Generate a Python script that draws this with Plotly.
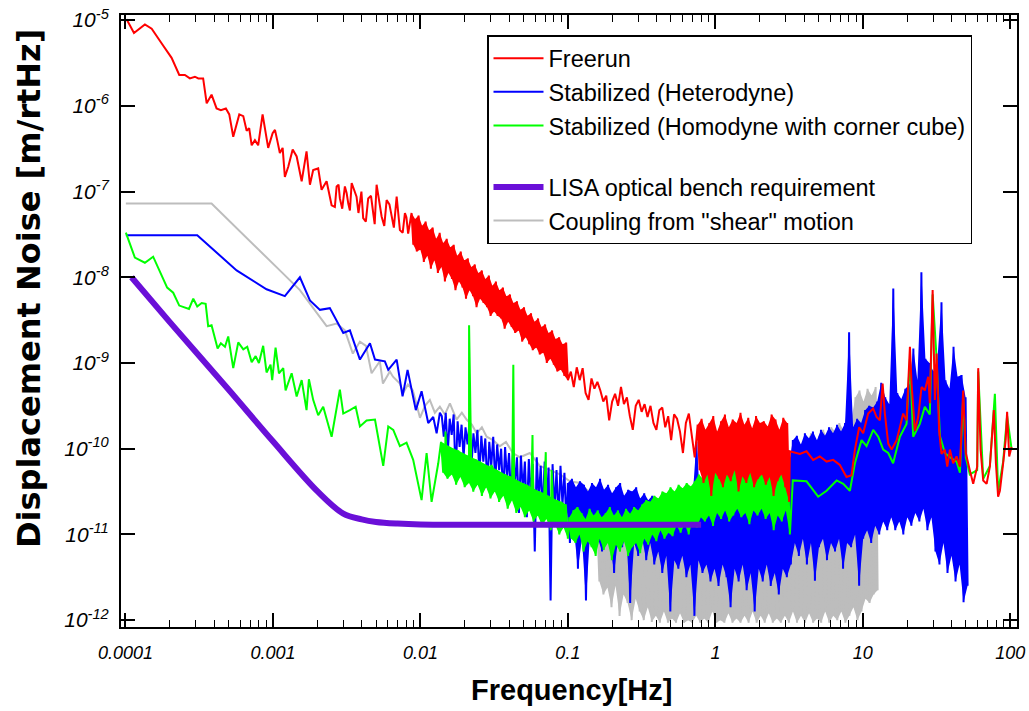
import numpy as np
import plotly.graph_objects as go

# ---------------- data (log10 of frequency [Hz] and of noise [m/rtHz]) -------------
# Freerun (red)
freerun_logf = [-3.992,-3.942,-3.868,-3.822,-3.755,-3.687,-3.635,-3.597,-3.563,-3.529,-3.506,-3.473,-3.449,-3.416,-3.382,-3.353,-3.319,-3.296,-3.269,-3.228,-3.201,-3.178,-3.161,-3.144,-3.122,-3.100,-3.070,-3.043,-3.032,-3.002,-2.986,-2.971,-2.953,-2.934,-2.919,-2.896,-2.866,-2.839,-2.805,-2.772,-2.749,-2.727,-2.693,-2.670,-2.636,-2.602,-2.568,-2.546,-2.512,-2.489,-2.466,-2.433,-2.388,-2.354,-2.320,-2.297,-2.263,-2.229,-2.195,-2.161,-2.139,-2.105,-2.083]
freerun_logv = [-4.99,-5.15,-5.05,-5.10,-5.27,-5.44,-5.64,-5.64,-5.68,-5.66,-5.68,-5.68,-5.97,-5.87,-6.03,-6.05,-6.03,-6.10,-6.36,-6.10,-6.12,-6.29,-6.26,-6.46,-6.40,-6.46,-6.10,-6.40,-6.49,-6.32,-6.28,-6.40,-6.55,-6.49,-6.83,-6.71,-6.51,-6.59,-6.88,-6.53,-6.92,-6.75,-6.73,-6.98,-6.88,-7.16,-6.94,-7.08,-6.94,-7.14,-6.90,-7.06,-7.31,-7.08,-7.25,-6.92,-7.29,-7.10,-7.29,-7.06,-7.45,-7.25,-7.49]
freerun_extra_logf = [-2.58,-2.555,-2.53,-2.50,-2.478,-2.45,-2.42,-2.40,-2.37,-2.335,-2.31,-2.28,-2.245,-2.21,-2.18,-2.15,-2.12,-2.095]
freerun_extra_logv = [-7.18,-6.92,-7.20,-7.02,-7.22,-6.98,-7.25,-7.00,-7.35,-7.05,-7.38,-7.12,-7.40,-7.15,-7.42,-7.22,-7.48,-7.30]
freerun_band1_span = (-2.06, -1.0)
freerun_band1_logv = [-7.25,-7.62,-7.32,-7.70,-7.28,-7.68,-7.40,-7.82,-7.35,-7.75,-7.45,-7.90,-7.42,-7.80,-7.55,-7.95,-7.48,-7.88,-7.60,-8.05,
                      -7.55,-7.95,-7.65,-8.02,-7.62,-8.15,-7.75,-8.05,-7.70,-8.12,-7.80,-8.25,-7.78,-8.15,-7.88,-8.22,-7.85,-8.35,-7.95,-8.25,
                      -7.92,-8.30,-8.02,-8.35,-7.98,-8.45,-8.10,-8.40,-8.05,-8.45,-8.15,-8.48,-8.12,-8.60,-8.22,-8.52,-8.20,-8.58,-8.30,-8.65,
                      -8.28,-8.62,-8.38,-8.75,-8.35,-8.70,-8.45,-8.78,-8.42,-8.85,-8.52,-8.82,-8.48,-8.90,-8.58,-8.88,-8.55,-9.00,-8.65,-8.95,
                      -8.62,-9.02,-8.72,-9.10,-8.70,-9.08,-8.78,-9.15,-8.76,-9.20]
freerun_band2_span = (-0.98, -0.14)
freerun_band2_logv = [-9.10,-9.28,-9.05,-9.20,-9.06,-9.35,-9.43,-9.18,-9.30,-9.22,-9.32,-9.45,-9.38,-9.67,-9.45,-9.36,-9.50,-9.28,-9.48,-9.40,-9.62,-9.78,-9.50,-9.43,-9.57,-9.48,-9.63,-9.50,-9.70,-9.78,-9.55,-9.52,-9.75,-9.62,-9.90,-9.60,-9.65,-9.80,-10.05,-9.70,-9.59,-9.85,-10.10]
freerun_band3_span = (-0.12, 0.50)
freerun_band3_logv = [-9.72,-10.25,-9.65,-10.40,-9.78,-10.30,-9.70,-10.55,-9.62,-10.28,-9.80,-10.35,-9.68,-10.45,-9.60,-10.30,-9.75,-10.38,-9.66,-10.25,-9.70,-10.50,-9.58,-10.32,-9.72,-10.40,-9.64,-10.28,-9.76,-10.45,-9.62,-10.35,-9.70,-10.30,-9.68,-10.42,-9.74,-10.33,-9.60,-10.55,-9.66,-10.38,-9.78,-10.30,-9.64,-10.45,-9.70,-10.62]
freerun_hf_logf = [0.505,0.573,0.618,0.663,0.708,0.754,0.799,0.844,0.889,0.923,0.946,0.975,1.002,1.036,1.070,1.093,1.115,1.134,1.149,1.172,1.195,1.229,1.251,1.273,1.296,1.319,1.330,1.353,1.375,1.398,1.420,1.443,1.454,1.473,1.488,1.500,1.517,1.533,1.556,1.572,1.590,1.612,1.635,1.658,1.680,1.698,1.725,1.748,1.775,1.782,1.798,1.816,1.839,1.861,1.888,1.902,1.917,1.929,1.951,1.968,1.978,1.992,2.008]
freerun_hf_logv = [-10.03,-10.06,-10.03,-10.13,-10.09,-10.15,-10.13,-10.19,-10.33,-10.31,-10.01,-9.75,-9.82,-9.59,-9.53,-9.63,-9.67,-9.24,-9.59,-9.94,-10.01,-9.90,-9.75,-9.59,-9.67,-8.81,-9.24,-9.79,-9.63,-9.28,-9.32,-9.16,-9.47,-8.15,-9.43,-8.89,-9.79,-10.06,-10.01,-10.21,-10.01,-10.17,-10.09,-10.21,-9.32,-10.05,-10.25,-10.41,-10.21,-9.06,-10.01,-10.37,-10.41,-10.21,-9.55,-10.17,-10.56,-10.49,-10.17,-9.90,-9.57,-10.09,-9.98]

# Stabilized, heterodyne (blue)
het_logf = [-3.997,-3.513,-3.246,-3.043,-2.919,-2.817,-2.749,-2.681,-2.614,-2.523,-2.478,-2.410,-2.342,-2.308,-2.241,-2.218,-2.161,-2.121,-2.087,-2.031,-1.992,-1.947,-1.913,-1.890,-1.868]
het_logv = [-7.51,-7.51,-7.92,-8.14,-8.22,-8.00,-8.27,-8.38,-8.36,-8.65,-8.62,-8.96,-8.77,-8.96,-8.98,-9.08,-8.96,-9.39,-9.08,-9.55,-9.33,-9.70,-9.63,-9.82,-9.58]
het_band1_span = (-1.855, -1.01)
het_band1_logv = [-9.62,-9.86,-9.58,-10.06,-9.65,-9.84,-9.60,-10.33,-9.68,-9.98,-9.72,-10.10,-9.75,-9.95,-9.70,-10.20,-9.82,-10.05,-9.78,-10.30,-9.85,-10.15,-9.88,-10.45,-9.92,-10.20,-9.86,-10.40,-9.95,-10.25,-10.00,-10.55,-9.98,-10.35,-10.05,-10.60,-10.02,-10.40,-10.10,-10.75,-10.08,-10.50,-10.15,-10.80,-10.12,-10.55,-10.18,-11.20,-10.10,-10.60,-10.20,-10.75,-10.15,-10.65,-10.22,-11.77,-10.18,-10.70,-10.25,-10.85,-10.20,-10.65,-10.28,-10.90]
het_band2_span = (-1.0, 1.71)
het_band2_logv = [-10.40,-11.10,-10.35,-10.95,-10.45,-11.40,-10.38,-11.05,-10.42,-11.77,-10.50,-11.00,-10.40,-11.15,-10.45,-11.05,-10.35,-11.20,-10.48,-10.95,
                  -10.42,-11.10,-10.52,-11.45,-10.45,-11.05,-10.40,-11.15,-10.55,-11.00,-10.48,-11.80,-10.50,-11.10,-10.45,-11.25,-10.58,-11.05,-10.52,-11.30,
                  -10.60,-11.10,-10.55,-11.35,-10.62,-11.20,-10.58,-11.45,-10.65,-11.25,-10.60,-11.90,-10.55,-11.30,-10.68,-11.40,-10.62,-11.25,-10.58,-11.50,
                  -10.65,-11.35,-10.60,-11.95,-9.92,-11.30,-10.62,-11.45,-10.58,-11.35,-10.55,-11.55,-10.50,-11.40,-10.45,-11.60,-10.50,-11.35,-10.42,-11.50,
                  -10.48,-11.85,-10.45,-11.40,-10.40,-11.55,-10.50,-11.35,-10.42,-11.65,-10.38,-11.45,-10.45,-11.90,-10.40,-11.40,-10.35,-11.55,-10.42,-11.35,
                  -10.30,-11.60,-10.38,-11.45,-10.28,-11.70,-10.35,-11.40,-10.25,-11.50,-10.20,-11.35,-9.90,-11.10,-9.85,-11.25,-9.95,-11.05,-9.82,-11.35,
                  -9.88,-11.10,-9.80,-11.54,-9.90,-11.15,-9.78,-11.05,-9.85,-11.30,-9.75,-11.10,-9.82,-11.20,-9.72,-11.05,-9.80,-11.40,-9.70,-11.10,
                  -8.64,-11.15,-9.75,-11.00,-9.65,-11.60,-9.70,-11.05,-9.55,-10.95,-9.50,-11.10,-9.52,-10.90,-9.45,-11.00,-9.23,-10.85,-9.40,-10.95,
                  -9.48,-10.80,-8.13,-10.95,-9.35,-10.85,-9.42,-11.00,-9.30,-10.80,-9.25,-10.90,-8.83,-10.75,-9.20,-10.85,-7.94,-10.70,-8.95,-10.95,
                  -9.00,-10.80,-9.10,-11.20,-8.95,-11.35,-8.29,-11.10,-9.20,-11.45,-9.30,-11.25,-8.81,-11.55,-9.16,-11.35,-9.14,-11.79,-9.40,-11.60]

# Stabilized, homodyne with corner cube (green)
hom_logf = [-3.997,-3.936,-3.868,-3.812,-3.717,-3.676,-3.635,-3.569,-3.540,-3.513,-3.483,-3.456,-3.439,-3.416,-3.375,-3.353,-3.325,-3.303,-3.269,-3.235,-3.201,-3.174,-3.144,-3.117,-3.095,-3.066,-3.043,-3.016,-3.005,-2.982,-2.959,-2.930,-2.914,-2.873,-2.839,-2.805,-2.772,-2.756,-2.727,-2.693,-2.659,-2.602,-2.546,-2.523,-2.478,-2.439,-2.410,-2.365,-2.308,-2.252,-2.218,-2.184,-2.139,-2.094,-2.049,-1.992,-1.958,-1.924,-1.879]
hom_logv = [-7.48,-7.77,-7.83,-7.76,-8.12,-8.18,-8.33,-8.37,-8.25,-8.34,-8.30,-8.31,-8.57,-8.56,-8.83,-8.77,-8.81,-8.69,-9.06,-8.76,-8.84,-8.81,-8.99,-8.92,-9.00,-8.80,-9.11,-9.02,-9.20,-8.82,-9.12,-9.06,-9.32,-9.12,-9.39,-9.20,-9.55,-9.19,-9.43,-9.61,-9.51,-9.86,-9.31,-9.59,-9.55,-9.51,-9.74,-9.67,-9.66,-10.20,-9.74,-9.78,-9.97,-9.93,-10.13,-10.60,-10.05,-10.62,-10.17]
hom_band1_span = (-1.86, -1.0)
hom_band1_logv = [-9.92,-10.28,-9.95,-10.35,-9.98,-10.30,-10.00,-10.42,-10.02,-10.33,-10.05,-10.45,-10.08,-10.40,-10.10,-10.50,-10.12,-10.42,-10.15,-10.55,-10.18,-10.45,-10.20,-10.58,-10.22,-10.50,-10.25,-10.62,-10.28,-10.55,-10.30,-10.70,-10.32,-10.60,-10.35,-10.75,-10.38,-10.68,-10.40,-10.80,-10.42,-10.72,-10.45,-10.85,-10.48,-10.78,-10.50,-10.90,-10.52,-10.82,-10.55,-10.95,-10.58,-10.88,-10.60,-11.00,-10.62,-10.92,-10.65,-11.05]
hom_lines_logf = [-1.83, -1.67, -1.60, -1.52, -1.37, -1.24, -1.15, -1.11]
hom_lines_logv = [-9.80, -8.56, -10.37, -10.19, -9.02, -9.84, -10.04, -10.25]
hom_band2_span = (-0.99, 0.505)
hom_band2_logv = [-10.80,-11.05,-10.72,-11.10,-10.68,-11.00,-10.75,-11.20,-10.82,-11.08,-10.70,-11.15,-10.78,-11.25,-10.72,-11.05,-10.80,-11.18,-10.75,-11.10,-10.68,-11.30,-10.78,-11.12,-10.72,-11.20,-10.80,-11.08,-10.70,-11.25,-10.76,-11.15,-10.68,-11.10,-10.72,-11.22,-10.65,-11.05,-10.60,-11.12,-10.62,-11.00,-10.55,-11.08,-10.58,-10.95,-10.50,-11.05,-10.52,-10.98,-10.45,-11.02,-10.50,-10.90,-10.42,-10.98,-10.46,-10.88,-10.40,-11.00,-10.44,-10.85,-10.38,-10.92,-10.30,-10.80,-10.35,-10.85,-10.25,-10.78,-10.30,-10.90,-10.22,-10.75,-10.28,-10.82,-10.20,-10.72,-10.25,-10.85,-10.18,-10.78,-10.22,-10.70,-10.15,-10.80,-10.20,-10.75,-10.17,-10.88,-10.22,-10.72,-10.15,-10.78,-10.20,-10.70,-10.18,-10.82,-10.25,-10.75,-10.20,-10.95,-10.15,-10.78,-10.22,-10.85,-10.18,-10.72,-10.25,-11.00]
hom_hf_logf = [0.525,0.618,0.697,0.754,0.822,0.867,0.912,0.946,0.991,1.025,1.070,1.104,1.138,1.172,1.205,1.251,1.296,1.319,1.341,1.386,1.420,1.454,1.473,1.500,1.522,1.556,1.590,1.635,1.658,1.680,1.698,1.725,1.775,1.782,1.816,1.861,1.895,1.917,1.951,1.978,2.008]
hom_hf_logv = [-10.37,-10.38,-10.56,-10.49,-10.37,-10.41,-10.49,-10.17,-9.90,-9.97,-9.78,-9.86,-10.01,-10.05,-10.17,-9.86,-9.71,-8.95,-9.86,-9.71,-9.51,-9.60,-8.20,-8.95,-9.85,-10.05,-10.10,-10.15,-10.28,-9.40,-10.10,-10.30,-10.25,-9.10,-10.35,-10.20,-9.36,-10.50,-10.15,-9.62,-10.00]

# Coupling from "shear" motion (grey)
shear_logf = [-3.997,-3.416,-2.941,-2.817,-2.636,-2.568,-2.512,-2.458,-2.410,-2.369,-2.331,-2.275,-2.254,-2.207,-2.186,-2.139,-2.117,-2.085,-2.051,-2.003,-1.969,-1.936,-1.902,-1.868,-1.834,-1.800,-1.755,-1.719,-1.687,-1.651,-1.619,-1.583,-1.551,-1.508,-1.461,-1.420,-1.373,-1.325,-1.258,-1.190,-1.122,-1.054,-0.986,-0.919,-0.871,-0.824]
shear_logv = [-7.14,-7.14,-7.94,-8.15,-8.57,-8.54,-8.62,-8.89,-8.75,-8.80,-9.12,-8.98,-9.24,-9.10,-9.16,-9.24,-9.35,-9.25,-9.32,-9.64,-9.50,-9.43,-9.58,-9.51,-9.60,-9.47,-9.66,-9.58,-9.66,-9.72,-9.82,-9.75,-9.86,-9.90,-9.97,-9.92,-10.05,-10.10,-10.05,-10.20,-10.25,-10.30,-10.38,-10.40,-10.48,-10.55]
shear_band_span = (-0.80, 1.10)
shear_band_logv = [-10.90,-11.55,-11.00,-11.70,-10.95,-11.62,-11.05,-11.85,-10.98,-11.60,-11.02,-11.95,-10.92,-11.70,-11.08,-11.80,-11.00,-12.00,-11.05,-11.75,
                   -10.95,-11.90,-11.10,-12.00,-11.02,-11.85,-11.05,-12.02,-11.12,-11.95,-11.00,-12.03,-11.08,-11.90,-11.15,-12.03,-11.05,-11.98,-11.10,-12.03,
                   -11.02,-11.92,-11.12,-12.03,-11.05,-12.00,-11.10,-12.03,-11.00,-11.95,-11.08,-12.03,-10.98,-11.98,-11.05,-12.03,-10.95,-11.90,-10.98,-12.03,
                   -10.90,-12.00,-10.95,-12.03,-10.88,-11.92,-10.92,-12.03,-10.85,-11.98,-10.90,-12.03,-10.82,-11.95,-10.88,-12.03,-10.80,-11.90,-10.85,-12.03,
                   -10.78,-11.95,-10.82,-12.03,-10.75,-11.92,-10.80,-12.03,-10.72,-11.98,-10.60,-12.03,-10.50,-11.95,-10.40,-12.03,-10.10,-11.90,-10.05,-12.03,
                   -9.95,-11.95,-10.02,-12.03,-9.90,-11.92,-9.82,-12.03,-9.95,-11.98,-9.85,-12.03,-9.78,-11.90,-9.88,-12.03,-9.75,-11.95,-9.80,-12.00,
                   -9.70,-11.90,-9.78,-12.03,-9.55,-11.95,-9.65,-11.85,-9.40,-12.00,-9.32,-11.90,-9.45,-11.75,-9.30,-11.80,-9.38,-11.70,-9.28,-11.65]

# LISA optical bench requirement (purple), in Hz and m/rtHz
lisa_f = [1.1e-4, 2e-4, 5e-4, 1e-3, 2e-3, 3e-3, 4e-3, 5e-3, 7e-3, 1e-2, 2e-2, 1e-1, 0.8]
lisa_v = [1.0e-8, 3.0e-9, 4.9e-10, 1.22e-10, 3.2e-11, 1.75e-11, 1.5e-11, 1.4e-11, 1.34e-11, 1.31e-11, 1.3e-11, 1.3e-11, 1.3e-11]

# axis ticks
x_tickvals = [1e-4, 1e-3, 1e-2, 1e-1, 1, 10, 100]
x_ticktext = ["0.0001", "0.001", "0.01", "0.1", "1", "10", "100"]
y_exponents = [-12, -11, -10, -9, -8, -7, -6, -5]


def build(pieces):
    """Line through all typed points, sorted by frequency."""
    fs, vs = [], []
    for kind, a, b in pieces:
        if kind == "pts":
            n = min(len(a), len(b))
            fs += list(a[:n]); vs += list(b[:n])
        else:
            fs += list(np.linspace(a[0], a[1], len(b))); vs += list(b)
    fs = np.array(fs); vs = np.array(vs)
    order = np.argsort(fs, kind="stable")
    return 10 ** fs[order], 10 ** vs[order]


def band_fill(bands):
    """Closed outline of dense bands: the typed upper samples, then the typed lower samples."""
    xs, ys = [], []
    for span, vals in bands:
        f = np.linspace(span[0], span[1], len(vals))
        v = np.array(vals)
        up_f, up_v = f[0::2], v[0::2]
        lo_f, lo_v = f[1::2][::-1], v[1::2][::-1]
        xs += list(10 ** np.concatenate([up_f, lo_f])) + [None]
        ys += list(10 ** np.concatenate([up_v, lo_v])) + [None]
    return xs, ys


red_x, red_y = build([("pts", freerun_logf, freerun_logv),
                      ("pts", freerun_extra_logf, freerun_extra_logv),
                      ("band", freerun_band1_span, freerun_band1_logv),
                      ("band", freerun_band2_span, freerun_band2_logv),
                      ("band", freerun_band3_span, freerun_band3_logv),
                      ("pts", freerun_hf_logf, freerun_hf_logv)])
red_fx, red_fy = band_fill([(freerun_band1_span, freerun_band1_logv),
                            (freerun_band3_span, freerun_band3_logv)])
blue_x, blue_y = build([("pts", het_logf, het_logv),
                        ("band", het_band1_span, het_band1_logv),
                        ("band", het_band2_span, het_band2_logv)])
blue_fx, blue_fy = band_fill([(het_band2_span, het_band2_logv)])
green_x, green_y = build([("pts", hom_logf, hom_logv),
                          ("band", hom_band1_span, hom_band1_logv),
                          ("pts", hom_lines_logf, hom_lines_logv),
                          ("band", hom_band2_span, hom_band2_logv),
                          ("pts", hom_hf_logf, hom_hf_logv)])
green_fx, green_fy = band_fill([(hom_band1_span, hom_band1_logv),
                                (hom_band2_span, hom_band2_logv)])
gray_x, gray_y = build([("pts", shear_logf, shear_logv),
                        ("band", shear_band_span, shear_band_logv)])
gray_fx, gray_fy = band_fill([(shear_band_span, shear_band_logv)])

FONT = "Liberation Sans, Arial, Helvetica, sans-serif"
TITLE_FONT = "DejaVu Sans, Verdana, sans-serif"

RED, BLUE, GREEN, GRAY, PURPLE = "#ff0000", "#0000ff", "#00ff00", "#bdbdbd", "#6a0fd8"

W, H = 1029, 711
ML, MT = 121, 15
PW, PH = 896, 612

fig = go.Figure()


def add_fill(x, y, color):
    fig.add_trace(go.Scatter(x=x, y=y, mode="lines", fill="toself", fillcolor=color,
                             line=dict(width=0, color=color), showlegend=False,
                             hoverinfo="skip"))


add_fill(gray_fx, gray_fy, GRAY)
fig.add_trace(go.Scatter(x=gray_x, y=gray_y, mode="lines", name='Coupling from "shear" motion',
                         line=dict(color=GRAY, width=2), legendgroup="b", legendrank=5))
add_fill(blue_fx, blue_fy, BLUE)
fig.add_trace(go.Scatter(x=blue_x, y=blue_y, mode="lines", name="Stabilized (Heterodyne)",
                         line=dict(color=BLUE, width=2), legendgroup="a", legendrank=2))
add_fill(green_fx, green_fy, GREEN)
fig.add_trace(go.Scatter(x=green_x, y=green_y, mode="lines", name="Stabilized (Homodyne with corner cube)",
                         line=dict(color=GREEN, width=2), legendgroup="a", legendrank=3))
add_fill(red_fx, red_fy, RED)
fig.add_trace(go.Scatter(x=red_x, y=red_y, mode="lines", name="Freerun",
                         line=dict(color=RED, width=2), legendgroup="a", legendrank=1))
fig.add_trace(go.Scatter(x=lisa_f, y=lisa_v, mode="lines", name="LISA optical bench requirement",
                         line=dict(color=PURPLE, width=6, shape="spline"), legendgroup="b", legendrank=4))

minor_vals = [m * 10.0 ** e for e in range(-4, 2) for m in range(2, 10)]

axis_common = dict(type="log", showgrid=False, zeroline=False, showline=True, automargin=False,
                   linecolor="black", linewidth=2, mirror="allticks", ticklabeloverflow="allow",
                   ticks="inside", ticklen=14, tickwidth=1.5, tickcolor="black")

fig.update_xaxes(**axis_common, range=[-4.03, 2.045], tickmode="array",
                 tickvals=x_tickvals, ticktext=x_ticktext, ticklabelstandoff=8,
                 tickfont=dict(family=FONT, size=18, color="black", style="italic"),
                 minor=dict(tickmode="array", tickvals=minor_vals, ticks="inside",
                            ticklen=7, tickwidth=1.2, tickcolor="black", showgrid=False))
fig.update_yaxes(**axis_common, range=[-12.08, -4.94], tickmode="array",
                 tickvals=[10.0 ** e for e in y_exponents],
                 ticktext=["10<sup>%d</sup>" % e for e in y_exponents], ticklabelstandoff=6,
                 tickfont=dict(family=FONT, size=21, color="black", style="italic"))

fig.add_annotation(text="Frequency[Hz]", xref="paper", yref="paper",
                   x=(571 - ML) / PW, y=(MT + PH - 690) / PH, xanchor="center", yanchor="middle",
                   showarrow=False, font=dict(family=FONT, size=29, color="black", weight="bold"))
fig.add_annotation(text="Displacement Noise [m/rtHz]", xref="paper", yref="paper",
                   x=(29 - ML) / PW, y=(MT + PH - 289) / PH, xanchor="center", yanchor="middle",
                   textangle=-90, showarrow=False,
                   font=dict(family=TITLE_FONT, size=32, color="black", weight="bold"))

fig.update_layout(
    width=W, height=H,
    margin=dict(l=ML, r=W - ML - PW, t=MT, b=H - MT - PH),
    plot_bgcolor="white", paper_bgcolor="white",
    showlegend=True,
    legend=dict(x=(487 - ML) / PW, y=(MT + PH - 35) / PH, xanchor="left", yanchor="top",
                bgcolor="white", bordercolor="black", borderwidth=1.5,
                font=dict(family=FONT, size=23.5, color="black"),
                traceorder="grouped", tracegroupgap=28, itemwidth=50),
)

# remove the page's default 8px body margin so the 1029x711 figure fills the window exactly
fig.write_html("out.html", config={"displayModeBar": False},
               post_script="document.body.style.margin='0';")
